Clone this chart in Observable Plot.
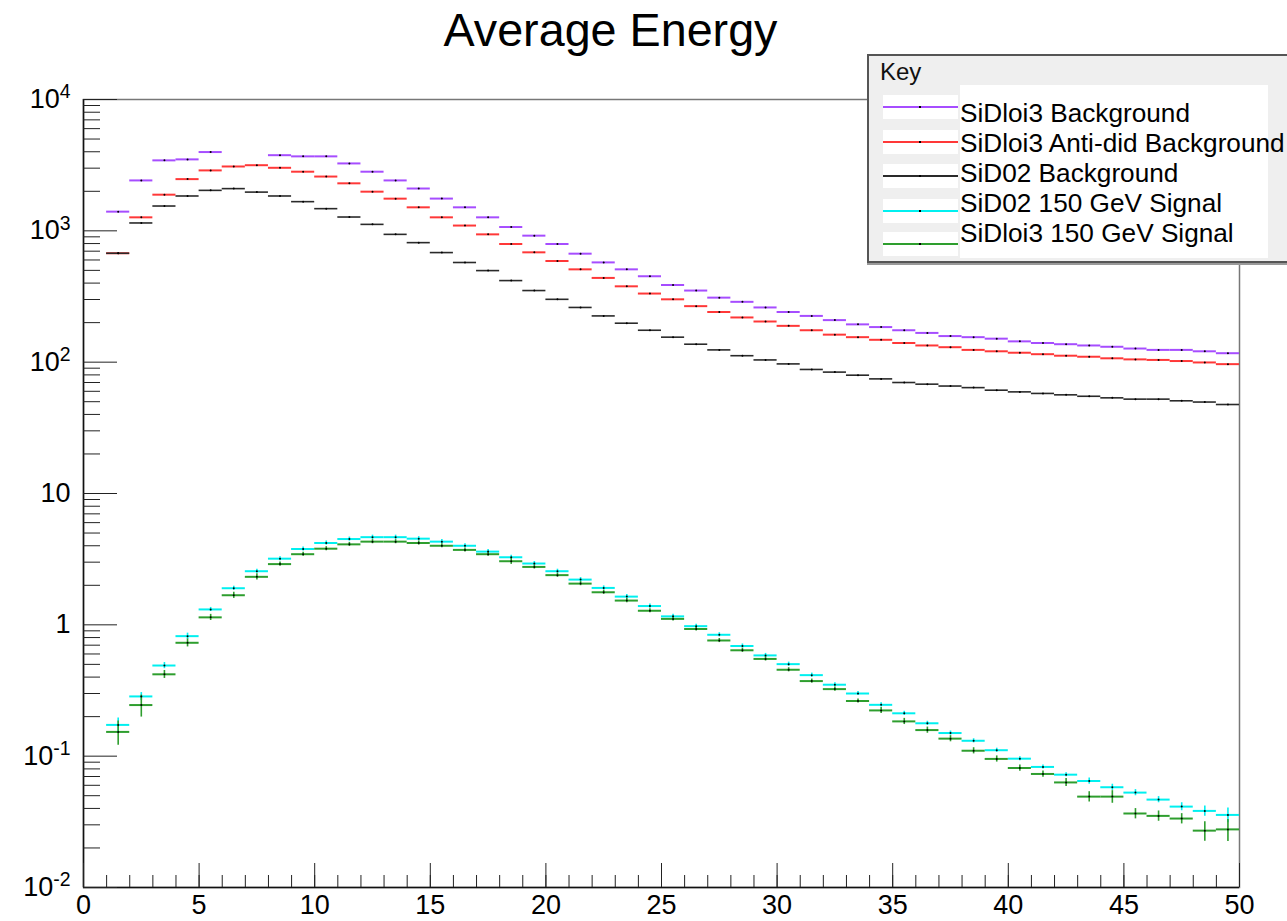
<!DOCTYPE html>
<html><head><meta charset="utf-8">
<script src="https://cdn.jsdelivr.net/npm/d3@7"></script>
<script src="https://cdn.jsdelivr.net/npm/@observablehq/plot@0.6"></script>
<style>
html,body{margin:0;padding:0;background:#fff;overflow:hidden;}
#wrap{position:relative;width:1287px;height:921px;font-family:"Liberation Sans",Arial,sans-serif;overflow:hidden;}
#chart{position:absolute;left:0;top:0;}
.abs{position:absolute;line-height:1;white-space:nowrap;}
</style></head><body>
<div id="wrap">
<div id="chart"></div>
<div class="abs" id="title" style="left:0;width:1221px;top:7px;text-align:center;font-size:46.7px;color:#000;">Average Energy</div>
<div id="legend"></div>
</div>
<script>
// ---- Data (bin low edges 1..49, width 1) ----
const binLow = d3.range(1, 50);
const seriesNames = ["SiDloi3 Background", "SiDloi3 Anti-did Background", "SiD02 Background", "SiD02 150 GeV Signal", "SiDloi3 150 GeV Signal"];
const seriesColors = ["#a64dff", "#ff3838", "#2a2a2a", "#00f0f0", "#2e9e2e"];

const bgSiDloi3 = [1400, 2420, 3440, 3500, 3980, null, null, 3767, 3690, 3690, 3260, 2820, 2420, 2100, 1760, 1510, 1267, 1069, 919, 794, 670, 575, 509, 451, 387, 351, 310, 288, 261, 241, 225, 209, 194, 185, 175, 167, 158, 155, 151, 144, 140, 137, 134, 131, 127, 124, 124, 121, 117];
const bgAntiDid = [675, 1267, 1885, 2476, 2885, 3090, 3160, 3020, 2820, 2590, 2300, 1987, 1758, 1510, 1267, 1097, 940, 794, 686, 589, 509, 438, 378, 333, 301, 267, 241, 219, 204, 189, 175, 162, 155, 148, 140, 134, 130, 124, 121, 118, 115, 112, 110, 107, 105, 104, 102, 99.5, 96.6];
const bgSiD02 = [675, 1148, 1545, 1842, 2033, 2096, 1972, 1842, 1668, 1475, 1274, 1120, 940, 813, 683, 574, 498, 418, 351, 301, 261, 225, 198, 175, 155, 137, 124, 112, 104, 97, 88, 84, 79.6, 74.6, 70, 68, 65.8, 64, 61.2, 59.4, 57.8, 56.4, 55, 53.5, 52.3, 52.3, 50.8, 49.7, 47.6];
const sigSiD02 = [0.173, 0.285, 0.49, 0.82, 1.31, 1.90, 2.56, 3.19, 3.78, 4.2, 4.5, 4.65, 4.65, 4.53, 4.30, 4.0, 3.61, 3.27, 2.93, 2.56, 2.21, 1.91, 1.64, 1.39, 1.16, 0.977, 0.84, 0.69, 0.585, 0.502, 0.414, 0.35, 0.30, 0.246, 0.212, 0.178, 0.150, 0.131, 0.111, 0.0957, 0.0828, 0.0723, 0.0647, 0.058, 0.0528, 0.0467, 0.0413, 0.0383, 0.0357];
const sigSiDloi3 = [0.153, 0.245, 0.42, 0.73, 1.14, 1.68, 2.32, 2.90, 3.45, 3.80, 4.10, 4.30, 4.30, 4.2, 4.0, 3.72, 3.45, 3.05, 2.76, 2.39, 2.06, 1.77, 1.53, 1.28, 1.11, 0.93, 0.76, 0.64, 0.55, 0.455, 0.373, 0.324, 0.263, 0.223, 0.184, 0.158, 0.136, 0.110, 0.0953, 0.0813, 0.0732, 0.0631, 0.0492, 0.0492, 0.0366, 0.0351, 0.0335, 0.0271, 0.0277];
// relative statistical errors of the signal bins
const errSiD02 = [0.13, 0.07, 0.054, 0.054, 0.036, 0.036, 0.036, 0.036, 0.036, 0.036, 0.036, 0.036, 0.036, 0.036, 0.036, 0.036, 0.036, 0.036, 0.036, 0.036, 0.036, 0.036, 0.036, 0.036, 0.036, 0.036, 0.036, 0.036, 0.036, 0.036, 0.036, 0.036, 0.036, 0.036, 0.036, 0.036, 0.036, 0.036, 0.036, 0.036, 0.036, 0.036, 0.054, 0.054, 0.054, 0.054, 0.07, 0.09, 0.13];
const errSiDloi3 = [0.21, 0.19, 0.07, 0.07, 0.054, 0.054, 0.054, 0.036, 0.036, 0.036, 0.036, 0.036, 0.036, 0.036, 0.036, 0.036, 0.036, 0.054, 0.036, 0.036, 0.036, 0.036, 0.036, 0.036, 0.036, 0.036, 0.036, 0.036, 0.036, 0.036, 0.036, 0.036, 0.036, 0.054, 0.054, 0.054, 0.054, 0.054, 0.054, 0.054, 0.054, 0.07, 0.09, 0.11, 0.09, 0.09, 0.09, 0.17, 0.19];

const xMajorTicks = [0, 5, 10, 15, 20, 25, 30, 35, 40, 45, 50];
const xMinorTicks = d3.range(0, 51);
const yDecades = [0.01, 0.1, 1, 10, 100, 1000, 10000];
const yDecadeLabels = ["10^-2", "10^-1", "1", "10", "10^2", "10^3", "10^4"];
const yMinorTicks = yDecades.slice(0, -1).flatMap(d => [2,3,4,5,6,7,8,9].map(m => d * m));

// ---- Build tables ----
const seriesValues = [bgSiDloi3, bgAntiDid, bgSiD02, sigSiD02, sigSiDloi3];
const seriesErrs = [null, null, null, errSiD02, errSiDloi3];
const rows = [];
seriesValues.forEach((vals, si) => {
  vals.forEach((v, i) => {
    if (v == null) return;
    const e = seriesErrs[si] ? seriesErrs[si][i] : 0;
    rows.push({series: seriesNames[si], x1: binLow[i], x2: binLow[i] + 1, xc: binLow[i] + 0.5, y: v, lo: v * (1 - e), hi: v * (1 + e)});
  });
});

const lineMarks = seriesNames.map((name, si) =>
  Plot.ruleY(rows.filter(r => r.series === name), {x1: "x1", x2: "x2", y: "y", stroke: seriesColors[si], strokeWidth: si === 2 ? 1.6 : 2})
);
const errMarks = [3, 4].map(si =>
  Plot.ruleX(rows.filter(r => r.series === seriesNames[si]), {x: "xc", y1: "lo", y2: "hi", stroke: seriesColors[si], strokeWidth: 1.6})
);

const plot = Plot.plot({
  width: 1287, height: 921,
  marginTop: 99, marginBottom: 34, marginLeft: 83, marginRight: 48,
  style: {fontFamily: "'Liberation Sans', Arial, sans-serif", background: "white", color: "black"},
  x: {type: "linear", domain: [0, 50], label: null},
  y: {type: "log", domain: [0.01, 10000], label: null},
  marks: [
    Plot.frame({stroke: "#777", strokeWidth: 1.5}),
    ...lineMarks,
    ...errMarks,
    Plot.dot(rows, {x: "xc", y: "y", r: 1, fill: "black"}),
    Plot.ruleX([0], {stroke: "#111", strokeWidth: 1.5}),
    Plot.ruleY([0.01], {stroke: "#111", strokeWidth: 1.5}),
    Plot.axisX({ticks: xMinorTicks, tickSize: -12, fill: "none", stroke: "#222", label: null}),
    Plot.axisX({ticks: xMajorTicks, tickSize: -24, fill: "none", stroke: "#222", label: null}),
    Plot.axisX({ticks: xMajorTicks, tickSize: 0, tickPadding: 7, fontSize: 27, fill: "black", label: null, tickFormat: d => String(d)}),
    Plot.axisY({ticks: yMinorTicks, tickSize: -17, fill: "none", stroke: "#222", label: null}),
    Plot.axisY({ticks: yDecades, tickSize: -34, fill: "none", stroke: "#222", label: null}),
    Plot.axisY({ticks: yDecades, tickSize: 0, tickPadding: 13, fontSize: 27, fill: "black", label: null,
      tickFormat: d => yDecadeLabels[yDecades.indexOf(d)]})
  ]
});
document.getElementById("chart").appendChild(plot);

// superscript exponents
d3.select(plot).selectAll('g[aria-label="y-axis tick label"] text').each(function() {
  const t = d3.select(this);
  const s = t.text();
  if (s.includes("^")) {
    const [b, e] = s.split("^");
    t.text("");
    t.append("tspan").text(b);
    t.append("tspan").attr("dy", "-0.5em").attr("font-size", "0.72em").text(e);
  }
});

// ---- Legend (Key box) ----
const lg = document.getElementById("legend");
function box(css, text) {
  const d = document.createElement("div");
  d.className = "abs";
  d.style.cssText += css;
  if (text != null) d.textContent = text;
  lg.appendChild(d);
  return d;
}
box("left:867px;top:54px;width:430px;height:209px;background:#efefef;border:2px solid #555;box-sizing:border-box;box-shadow:0 2px 0 #999;");
box("left:880px;top:60px;font-size:24px;color:#111;", "Key");
box("left:960px;top:85px;width:308px;height:173px;background:#fff;");
const lineY = [107, 142, 176, 211, 244];
const textTop = [100, 130, 160, 190, 220];
seriesNames.forEach((name, i) => {
  box(`left:883px;top:${lineY[i] - 12}px;width:75px;height:24px;background:#fff;`);
  box(`left:883px;top:${lineY[i] - 1}px;width:75px;height:2px;background:${seriesColors[i]};`);
  box(`left:919px;top:${lineY[i] - 1}px;width:2px;height:2px;background:#000;`);
  box(`left:960px;top:${textTop[i]}px;font-size:26.2px;color:#000;`, name);
});
</script>
</body></html>
